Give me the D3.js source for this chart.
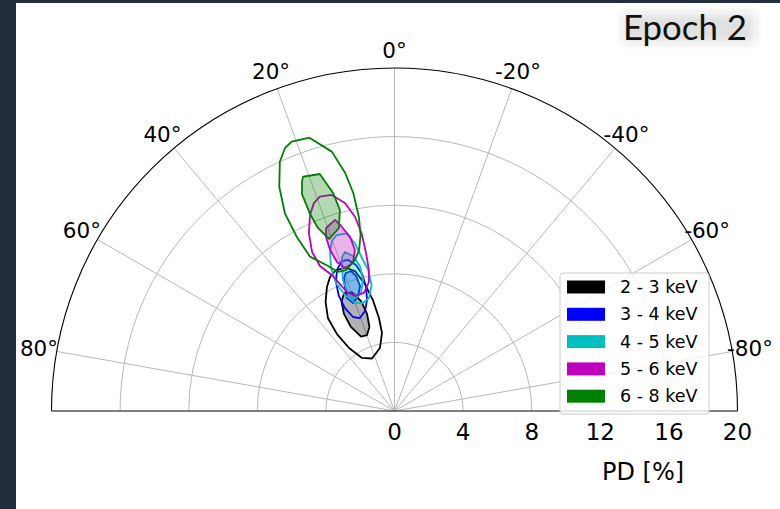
<!DOCTYPE html>
<html><head><meta charset="utf-8">
<script src="https://cdn.jsdelivr.net/npm/d3@7"></script>
<style>body{margin:0;background:#fff}svg{display:block}</style>
</head><body><svg id="c" width="780" height="509"></svg>
<script>
// ---- data: [PD %, PA deg] ----
const rTicks = [0, 4, 8, 12, 16, 20];
const ringTicks = [4, 8, 12, 16];
const angleTicks = [80, 60, 40, 20, 0, -20, -40, -60, -80];
const bandLabels = ["2 - 3 keV", "3 - 4 keV", "4 - 5 keV", "5 - 6 keV", "6 - 8 keV"];
const bandColors = ["#000000", "#0000ff", "#00bfbf", "#bf00bf", "#008000"];

const c23_outer = [[8.87,23.0],[8.85,19.0],[8.48,15.8],[7.60,13.1],[6.59,11.0],[5.50,9.5],[4.61,9.1],[3.77,13.0],[3.33,23.2],[3.63,31.5],[4.53,35.8],[5.60,36.8],[6.67,35.6],[7.52,32.3],[8.23,28.6],[8.67,25.7]];
const c23_inner = [[7.48,23.2],[7.34,19.7],[6.70,16.9],[5.88,15.8],[5.11,16.6],[4.71,19.9],[4.76,24.2],[5.52,27.4],[6.38,27.5],[7.07,25.9]];
const c34_outer = [[9.27,19.4],[9.21,17.0],[8.80,14.8],[8.21,13.3],[7.42,12.9],[6.67,13.9],[6.08,16.4],[5.78,20.4],[5.99,23.8],[6.66,25.7],[7.45,25.8],[8.26,24.4],[8.88,22.2]];
const c34_inner = [[8.53,19.4],[8.55,17.3],[8.19,15.9],[7.56,15.4],[6.98,17.8],[6.75,21.0],[7.15,22.8],[7.79,21.8],[8.30,20.8]];
const c45_outer = [[10.80,18.2],[10.73,15.1],[10.05,13.3],[9.12,12.0],[8.37,10.6],[7.47,10.3],[6.75,12.7],[6.56,16.3],[6.71,20.1],[7.35,23.1],[8.21,24.6],[9.12,23.9],[10.00,22.1],[10.56,20.2]];
const c45_inner = [[9.71,17.3],[9.36,15.0],[8.69,13.4],[7.86,13.5],[7.15,15.8],[6.93,19.4],[7.40,21.5],[8.21,21.5],[9.05,19.8],[9.49,18.8]];
const c56_outer = [[13.23,19.2],[13.12,16.2],[12.47,13.4],[11.56,11.5],[10.54,10.5],[9.34,10.2],[8.36,10.3],[7.67,11.2],[7.11,14.5],[7.09,18.9],[7.47,21.8],[8.65,24.5],[9.51,27.2],[10.44,27.4],[11.51,25.7],[12.45,23.3],[13.00,21.2]];
const c56_inner = [[11.67,17.3],[11.23,16.1],[10.47,14.3],[9.67,13.8],[8.96,15.7],[8.82,19.1],[9.31,21.1],[10.11,21.8],[10.90,21.5],[11.39,20.5]];
const c68_outer = [[16.81,20.9],[16.69,17.3],[15.56,13.6],[14.17,11.7],[12.92,10.7],[11.52,10.4],[10.45,10.9],[9.61,12.4],[9.10,14.7],[8.69,19.0],[8.75,22.1],[9.30,24.6],[10.26,28.7],[11.65,29.3],[13.18,29.0],[14.70,27.2],[16.00,24.7],[16.61,22.6]];
const c68_inner = [[14.66,21.3],[14.49,17.5],[13.19,15.7],[12.14,15.2],[11.15,16.9],[10.73,20.8],[11.57,22.7],[12.50,23.2],[13.75,23.1],[14.46,21.9]];

const outerContours = [c23_outer, c34_outer, c45_outer, c56_outer, c68_outer];
const innerContours = [c23_inner, c34_inner, c45_inner, c56_inner, c68_inner];

// ---- layout ----
const svg = d3.select("#c");
const cx = 394.5, cy = 411, R = 343;
const FONT = "DejaVu Sans, sans-serif";

svg.append("rect").attr("width", 780).attr("height", 509).attr("fill", "#222d3d");
svg.append("rect").attr("x", 16).attr("y", 3).attr("width", 764).attr("height", 506).attr("fill", "#ffffff");

const r = d3.scaleLinear().domain([0, 20]).range([0, R]);
const a = d3.scaleLinear().domain([-90, 90]).range([Math.PI / 2, -Math.PI / 2]); // PA -> d3 angle
const g = svg.append("g").attr("transform", `translate(${cx},${cy})`);

// grid rings
const gridArc = d3.arc().startAngle(-Math.PI / 2).endAngle(Math.PI / 2);
g.selectAll(".ring").data(ringTicks).join("path")
  .attr("d", d => {
    const p = d3.path(); p.arc(0, 0, r(d), Math.PI, 2 * Math.PI); return p.toString();
  })
  .attr("fill", "none").attr("stroke", "#b0b0b0").attr("stroke-width", 0.9);

// radial grid lines
g.selectAll(".spoke").data(angleTicks).join("line")
  .attr("x1", 0).attr("y1", 0)
  .attr("x2", d => d3.pointRadial(a(d), R)[0])
  .attr("y2", d => d3.pointRadial(a(d), R)[1])
  .attr("stroke", "#b0b0b0").attr("stroke-width", 0.9);

// contours
const line = d3.line().x(d => d3.pointRadial(a(d[1]), r(d[0]))[0])
                      .y(d => d3.pointRadial(a(d[1]), r(d[0]))[1])
                      .curve(d3.curveLinearClosed);
bandColors.forEach((col, i) => {
  g.append("path").attr("d", line(innerContours[i]))
    .attr("fill", col).attr("fill-opacity", 0.3)
    .attr("stroke", col).attr("stroke-width", 1.8).attr("stroke-linejoin", "round");
  g.append("path").attr("d", line(outerContours[i]))
    .attr("fill", "none")
    .attr("stroke", col).attr("stroke-width", 1.8).attr("stroke-linejoin", "round");
});

// outer frame arc + baseline
{
  const p = d3.path(); p.arc(0, 0, R, Math.PI, 2 * Math.PI);
  g.append("path").attr("d", p.toString()).attr("fill", "none").attr("stroke", "#000").attr("stroke-width", 1.1);
}
g.append("line").attr("x1", -R).attr("x2", R).attr("y1", 0).attr("y2", 0)
  .attr("stroke", "#555").attr("stroke-width", 1.6);

// angle labels
g.selectAll(".alab").data(angleTicks).join("text")
  .attr("x", d => d3.pointRadial(a(d), R + 18)[0])
  .attr("y", d => d3.pointRadial(a(d), R + 18)[1])
  .attr("text-anchor", "middle").attr("dominant-baseline", "central")
  .attr("font-family", FONT).attr("font-size", 21.5).attr("fill", "#000")
  .text(d => d + "°");

// radial tick labels
g.selectAll(".rlab").data(rTicks).join("text")
  .attr("x", d => r(d)).attr("y", 21)
  .attr("text-anchor", "middle").attr("dominant-baseline", "central")
  .attr("font-family", FONT).attr("font-size", 23).attr("fill", "#000")
  .text(d => d);

svg.append("text").attr("x", 643).attr("y", 472)
  .attr("text-anchor", "middle").attr("dominant-baseline", "central")
  .attr("font-family", FONT).attr("font-size", 24).attr("fill", "#000")
  .text("PD [%]");

// legend
const lg = svg.append("g").attr("transform", "translate(560,273)");
lg.append("rect").attr("width", 149).attr("height", 141).attr("rx", 3)
  .attr("fill", "#fff").attr("fill-opacity", 0.8).attr("stroke", "#cccccc").attr("stroke-width", 1);
bandLabels.forEach((t, i) => {
  const y = 14 + i * 27.3;
  lg.append("rect").attr("x", 7).attr("y", y - 6.5).attr("width", 38).attr("height", 13).attr("fill", bandColors[i]);
  lg.append("text").attr("x", 60).attr("y", y).attr("dominant-baseline", "central")
    .attr("font-family", FONT).attr("font-size", 17.5).attr("fill", "#000").text(t);
});

// title with soft shadow
const defs = svg.append("defs");
const f = defs.append("filter").attr("id", "blur").attr("x", "-20%").attr("y", "-50%").attr("width", "140%").attr("height", "200%");
f.append("feGaussianBlur").attr("stdDeviation", 4);
svg.append("rect").attr("x", 624).attr("y", 14).attr("width", 130).attr("height", 28)
  .attr("fill", "#c8c8c8").attr("filter", "url(#blur)");
svg.append("rect").attr("x", 622).attr("y", 12).attr("width", 134).attr("height", 32)
  .attr("fill", "#ffffff").attr("fill-opacity", 0.45);
svg.append("text").attr("x", 623).attr("y", 39.5)
  .attr("font-family", "Lato, sans-serif").attr("font-size", 34).attr("fill", "#111")
  .attr("textLength", 124).attr("lengthAdjust", "spacingAndGlyphs")
  .text("Epoch 2");
</script></body></html>
